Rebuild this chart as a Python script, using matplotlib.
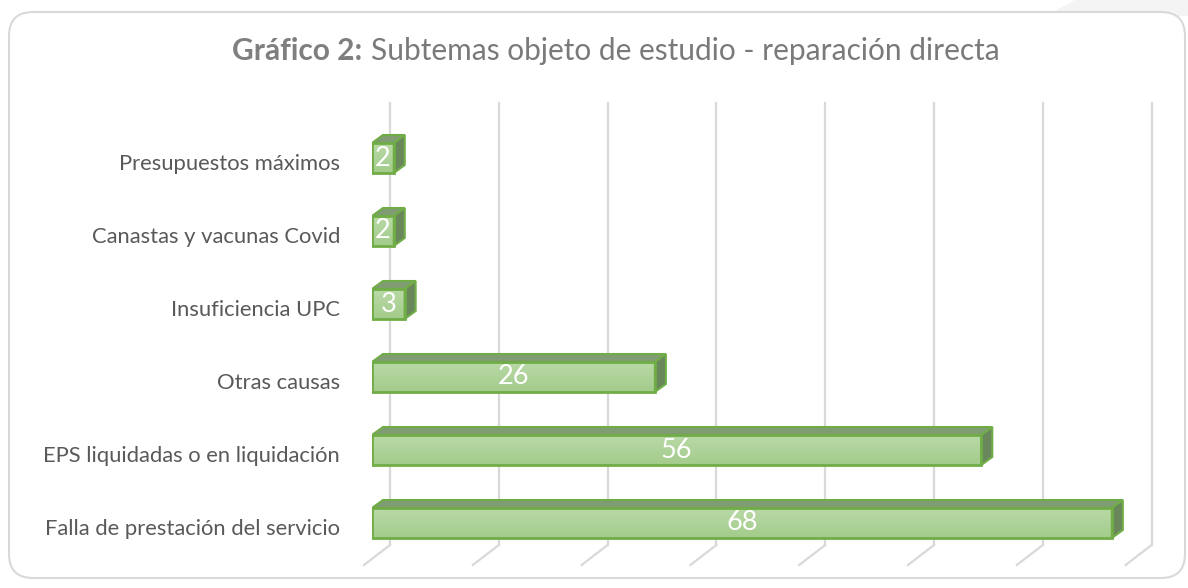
import numpy as np
import matplotlib.pyplot as plt
from matplotlib.patches import FancyBboxPatch, Polygon
from matplotlib.colors import LinearSegmentedColormap

# donnees du graphique
categorias = ["Falla de prestación del servicio", "EPS liquidadas o en liquidación",
              "Otras causas", "Insuficiencia UPC", "Canastas y vacunas Covid",
              "Presupuestos máximos"]
valores = [68, 56, 26, 3, 2, 2]
marcas_x = [0, 10, 20, 30, 40, 50, 60, 70]

titulo_negrita = "Gráfico 2:"
titulo = "Subtemas objeto de estudio - reparación directa"

W, H = 1188, 588
fig = plt.figure(figsize=(W / 100, H / 100), dpi=100)

# fond en pixels
bg = fig.add_axes([0, 0, 1, 1])
bg.set_xlim(0, W)
bg.set_ylim(H, 0)
bg.axis("off")
bg.add_patch(Polygon([(1075, 0), (W, 0), (W, 16), (1045, 16)], closed=True,
                     fc="#f4f4f4", ec="none"))
bg.add_patch(FancyBboxPatch((9, 12), 1176, 566, boxstyle="round,pad=0,rounding_size=24",
                            fc="white", ec="#d9d9d9", lw=1.5))

# titre (deux morceaux centres ensemble)
t1 = bg.text(0, 51, titulo_negrita, ha="left", va="center", fontsize=21.5,
             fontweight="bold", color="#7f7f7f", family="Lato")
t2 = bg.text(0, 51, titulo, ha="left", va="center", fontsize=21.5,
             color="#7a7a7a", family="Lato")
r = fig.canvas.get_renderer()
w1 = t1.get_window_extent(r).width
w2 = t2.get_window_extent(r).width
esp = 8
x0 = 616 - (w1 + esp + w2) / 2
t1.set_x(x0)
t2.set_x(x0 + w1 + esp)

# axes principal
ppu = 10.88   # px par unite
pas = 73.0    # px par categorie
ax = fig.add_axes([372 / W, 1 - 575 / H, 800 / W, 480 / H])
ax.axis("off")

y = np.arange(len(categorias))
h = 30 / pas
ddx = 11 / ppu
ddy = 8 / pas

# grille (mur du fond + sol)
for g in marcas_x:
    xb = g + 18 / ppu
    ax.plot([xb, xb], [(523 - 103) / pas, (523 - 545) / pas], color="#d9d9d9",
            lw=1.6, zorder=0, clip_on=False)
    ax.plot([xb, xb - 26 / ppu], [(523 - 545) / pas, (523 - 565) / pas],
            color="#d9d9d9", lw=1.6, zorder=0, clip_on=False)

grad = np.linspace(0, 1, 64).reshape(-1, 1)
cmap = LinearSegmentedColormap.from_list("verde", ["#a3cc8a", "#b9d9a7"])

for yi, v in zip(y, valores):
    yt = yi + h / 2
    yb = yi - h / 2
    ax.imshow(grad, extent=(0, v, yb, yt), origin="lower", cmap=cmap,
              aspect="auto", zorder=2)
    ax.add_patch(Polygon([(0, yt), (v, yt), (v + ddx, yt + ddy), (ddx, yt + ddy)],
                         closed=True, fc="#7f9c72", ec="#70ad47", lw=1.5, zorder=2))
    ax.add_patch(Polygon([(v, yb), (v + ddx, yb + ddy), (v + ddx, yt + ddy), (v, yt)],
                         closed=True, fc="#6a875c", ec="#70ad47", lw=1.5, zorder=2))
    ax.text(v / 2, yi, str(v), ha="center", va="center", color="white",
            fontsize=19.5, family="Lato", zorder=4)

ax.barh(y, valores, height=h, left=0, fc="none", ec="#70ad47", lw=2, zorder=3)

for yi, cat in zip(y, categorias):
    ax.text(-32 / ppu, yi - 6 / pas, cat, ha="right", va="center", fontsize=15.8,
            color="#595959", family="Lato", clip_on=False)

ax.set_xlim(0, 800 / ppu)
ax.set_ylim(-(575 - 523) / pas, (523 - 95) / pas)

fig.savefig("out.png", dpi=100)
